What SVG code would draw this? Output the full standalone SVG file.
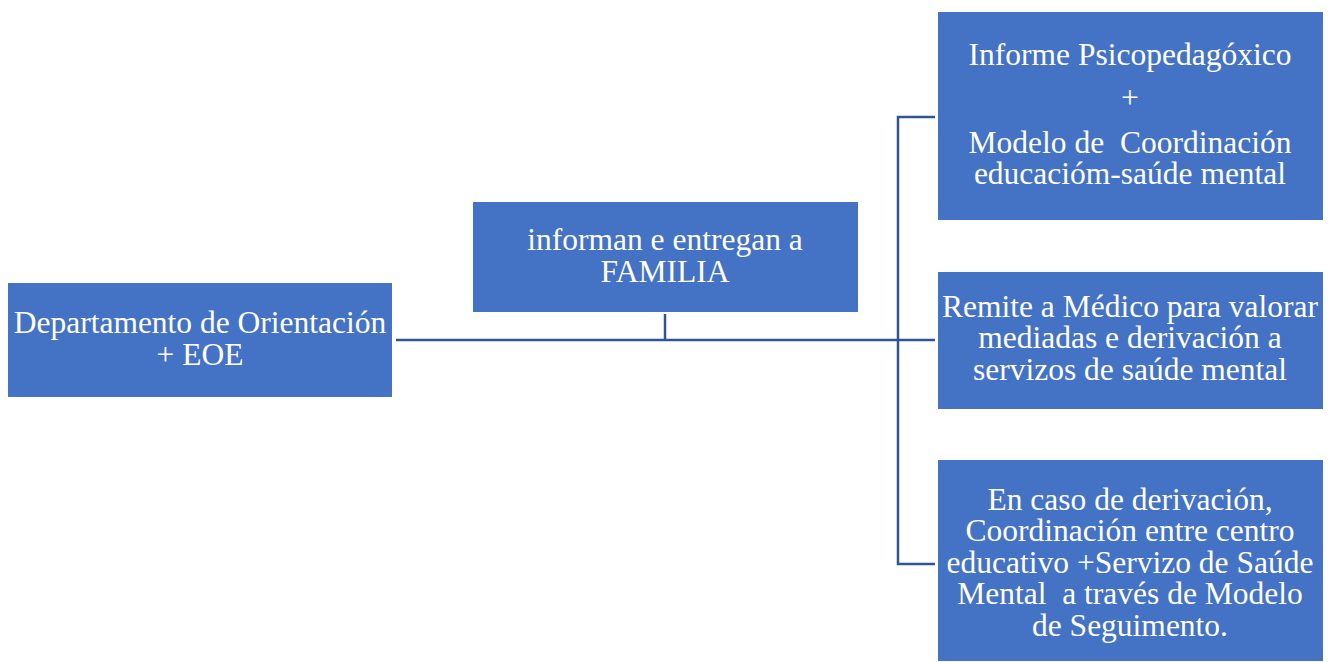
<svg xmlns="http://www.w3.org/2000/svg" width="1339" height="662" viewBox="0 0 1339 662">
<style>
.box{fill:#4472C4}
.t{font-family:'Liberation Serif',serif;font-size:31.5px;fill:#FFFFFF;text-anchor:middle}
.c{stroke:#2F5597;stroke-width:2.5;fill:none}
</style>
<rect width="1339" height="662" fill="#FFFFFF"/>
<g id="connectors">
<path class="c" d="M396 340 H935"/>
<path class="c" d="M665 314 V340"/>
<path class="c" d="M935 117 H898 V564 H935"/>
</g>
<g id="node-departamento">
<rect class="box" x="8" y="283" width="384" height="114"/>
<text class="t" font-family="Liberation Serif, serif" x="200" y="333">Departamento de Orientación</text>
<text class="t" font-family="Liberation Serif, serif" x="200" y="365">+ EOE</text>
</g>
<g id="node-familia">
<rect class="box" x="473" y="202" width="385" height="110"/>
<text class="t" font-family="Liberation Serif, serif" x="665" y="250">informan e entregan a</text>
<text class="t" font-family="Liberation Serif, serif" x="665" y="282">FAMILIA</text>
</g>
<g id="node-informe">
<rect class="box" x="938" y="12" width="385" height="208"/>
<text class="t" font-family="Liberation Serif, serif" x="1130" y="65">Informe Psicopedagóxico</text>
<text class="t" font-family="Liberation Serif, serif" x="1130" y="108">+</text>
<text class="t" font-family="Liberation Serif, serif" x="1130" y="153" xml:space="preserve">Modelo de  Coordinación</text>
<text class="t" font-family="Liberation Serif, serif" x="1130" y="184">educacióm-saúde mental</text>
</g>
<g id="node-medico">
<rect class="box" x="938" y="272" width="385" height="137"/>
<text class="t" font-family="Liberation Serif, serif" x="1130" y="317">Remite a Médico para valorar</text>
<text class="t" font-family="Liberation Serif, serif" x="1130" y="348">mediadas e derivación a</text>
<text class="t" font-family="Liberation Serif, serif" x="1130" y="380">servizos de saúde mental</text>
</g>
<g id="node-seguimento">
<rect class="box" x="938" y="460" width="385" height="201"/>
<text class="t" font-family="Liberation Serif, serif" x="1130" y="510">En caso de derivación,</text>
<text class="t" font-family="Liberation Serif, serif" x="1130" y="541">Coordinación entre centro</text>
<text class="t" font-family="Liberation Serif, serif" x="1130" y="573">educativo +Servizo de Saúde</text>
<text class="t" font-family="Liberation Serif, serif" x="1130" y="604" xml:space="preserve">Mental  a través de Modelo</text>
<text class="t" font-family="Liberation Serif, serif" x="1130" y="636">de Seguimento.</text>
</g>
</svg>
